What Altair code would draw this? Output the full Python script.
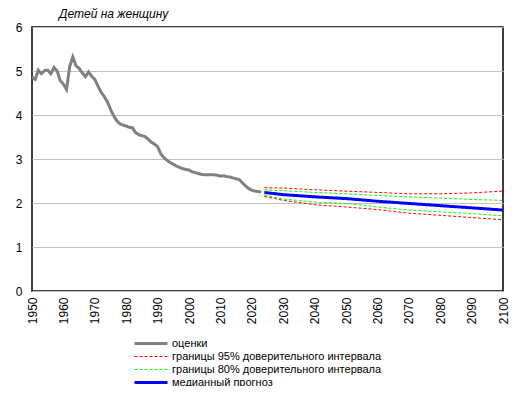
import altair as alt
import pandas as pd

# ---- data ----
est_years = list(range(1950, 2024))
est_values = [4.86, 4.81, 5.02, 4.94, 5.01, 5.02, 4.94, 5.08, 5.00, 4.78,
              4.70, 4.58, 5.10, 5.32, 5.12, 5.06, 4.96, 4.87, 4.98, 4.88,
              4.81, 4.66, 4.52, 4.42, 4.30, 4.13, 3.98, 3.87, 3.80, 3.77,
              3.75, 3.72, 3.71, 3.60, 3.55, 3.53, 3.51, 3.45, 3.38, 3.34,
              3.28, 3.12, 3.03, 2.97, 2.92, 2.88, 2.84, 2.81, 2.78, 2.76,
              2.75, 2.71, 2.69, 2.67, 2.65, 2.64, 2.64, 2.64, 2.64, 2.63,
              2.61, 2.62, 2.60, 2.59, 2.57, 2.55, 2.53, 2.46, 2.39, 2.33,
              2.29, 2.27, 2.26, 2.25]

proj_years = [2024, 2030, 2040, 2050, 2060, 2070, 2080, 2090, 2100]
median = [2.24, 2.19, 2.14, 2.10, 2.04, 1.99, 1.94, 1.89, 1.84]
upper95 = [2.35, 2.34, 2.30, 2.27, 2.24, 2.21, 2.21, 2.23, 2.27]
upper80 = [2.30, 2.28, 2.24, 2.21, 2.17, 2.14, 2.11, 2.08, 2.06]
lower80 = [2.18, 2.09, 2.02, 1.99, 1.91, 1.84, 1.80, 1.76, 1.71]
lower95 = [2.15, 2.06, 1.96, 1.91, 1.85, 1.77, 1.72, 1.67, 1.62]

series_names = ["оценки",
                "границы  95% доверительного интервала",
                "границы  80% доверительного интервала",
                "медианный  прогноз"]
series_colors = ["#808080", "#ff0000", "#00ff00", "#0000ff"]
series_dash = [[1, 0], [3, 2], [3, 2], [1, 0]]
series_width = [3, 1, 1, 3]

x_ticks = list(range(1950, 2101, 10))
title_text = "Детей на женщину"

# ---- build table ----
rows = []
for y, v in zip(est_years, est_values):
    rows.append({"year": y, "value": v, "series": series_names[0], "line": "a_est"})
for name, key, vals in [(series_names[1], "b_u95", upper95),
                        (series_names[1], "b_l95", lower95),
                        (series_names[2], "c_u80", upper80),
                        (series_names[2], "c_l80", lower80),
                        (series_names[3], "d_med", median)]:
    for y, v in zip(proj_years, vals):
        rows.append({"year": y, "value": v, "series": name, "line": key})
df = pd.DataFrame(rows)

FONT = "Liberation Sans"

legend = alt.Legend(
    title=None, orient="none", legendX=101, legendY=310,
    symbolType="stroke", symbolSize=1089, labelFont=FONT, labelFontSize=11,
    labelColor="black", padding=0, rowPadding=0, labelOffset=3, labelLimit=400,
    clipHeight=13,
)

chart = alt.Chart(df).mark_line(clip=False).encode(
    x=alt.X("year:Q", scale=alt.Scale(domain=[1950, 2100], nice=False),
            axis=alt.Axis(values=x_ticks, title=None, labelAngle=-90, format="d",
                          labelFont=FONT, labelFontSize=12, labelColor="black",
                          ticks=False, domain=False, grid=False, labelPadding=6)),
    y=alt.Y("value:Q", scale=alt.Scale(domain=[0, 6], nice=False),
            axis=alt.Axis(values=[0, 1, 2, 3, 4, 5, 6], title=None,
                          labelFont=FONT, labelFontSize=12, labelColor="black",
                          ticks=False, domain=False, grid=True, gridColor="#c0c0c0",
                          gridWidth=1, labelPadding=10)),
    color=alt.Color("series:N", scale=alt.Scale(domain=series_names, range=series_colors),
                    legend=legend),
    strokeDash=alt.StrokeDash("series:N", scale=alt.Scale(domain=series_names, range=series_dash),
                              legend=legend),
    strokeWidth=alt.StrokeWidth("series:N",
                                scale=alt.Scale(type="ordinal", domain=series_names, range=series_width),
                                legend=legend),
    detail="line:N",
    order=alt.Order("year:Q"),
).properties(
    width=471, height=264,
    title=alt.TitleParams(title_text, anchor="start", frame="group", dx=27, offset=0,
                          font=FONT, fontSize=12, fontStyle="italic", fontWeight="normal",
                          color="black"),
    autosize=alt.AutoSizeParams(type="none"),
    padding={"left": 24, "top": 19, "right": 7, "bottom": 95},
).configure_view(
    stroke="black", strokeWidth=1.5
)

chart.save("out.html", embed_options={"renderer": "svg", "actions": False})
